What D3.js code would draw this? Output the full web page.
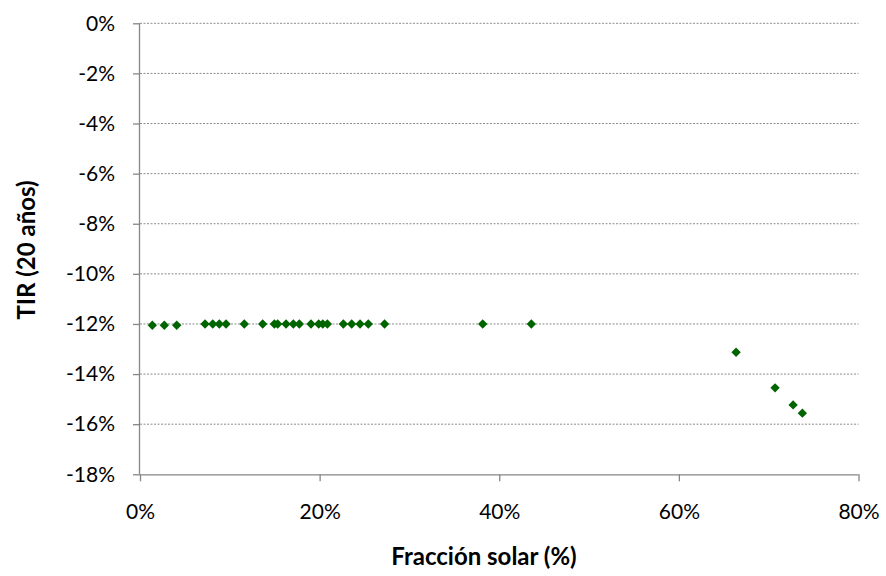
<!DOCTYPE html>
<html>
<head>
<meta charset="utf-8">
<script src="https://cdn.jsdelivr.net/npm/d3@7"></script>
<style>
  body { margin: 0; background: #fff; }
  svg { display: block; }
</style>
</head>
<body>
<svg id="chart" width="886" height="576"></svg>
<script>
// Data (fractions, %)
const solarFraction = [1.37, 2.71, 4.09, 7.24, 8.10, 8.83, 9.58, 11.61, 13.66, 14.96, 15.33, 16.26, 17.07, 17.74, 19.04, 19.90, 20.35, 20.86, 22.64, 23.57, 24.50, 25.42, 27.23, 38.16, 43.57, 66.37, 70.71, 72.72, 73.75];
const tir20 = [-12.05, -12.05, -12.05, -12.0, -12.0, -12.0, -12.0, -12.0, -12.0, -12.0, -12.0, -12.0, -12.0, -12.0, -12.0, -12.0, -12.0, -12.0, -12.0, -12.0, -12.0, -12.0, -12.0, -12.0, -12.0, -13.13, -14.55, -15.23, -15.56];
const xTicks = [0, 20, 40, 60, 80];
const yTicks = [0, -2, -4, -6, -8, -10, -12, -14, -16, -18];
const xTitle = "Fracción solar (%)";
const yTitle = "TIR (20 años)";

const font = "Lato, 'Open Sans', sans-serif";
const svg = d3.select("#chart");
const pLeft = 140, pRight = 858.5, pTop = 23.3, pBottom = 474.3;

const x = d3.scaleLinear().domain([0, 80]).range([pLeft, pRight]);
const y = d3.scaleLinear().domain([-18, 0]).range([pBottom, pTop]);

// Gridlines
svg.append("g").selectAll("line").data(yTicks.filter(d => d !== -18)).join("line")
  .attr("x1", pLeft).attr("x2", pRight)
  .attr("y1", d => y(d)).attr("y2", d => y(d))
  .attr("stroke", "#8c8c8c").attr("stroke-width", 1)
  .attr("stroke-dasharray", "2,1.5");

// Y axis
const yAxis = svg.append("g").attr("transform", `translate(${pLeft},0)`)
  .call(d3.axisLeft(y).tickValues(yTicks).tickSize(7).tickPadding(18).tickFormat(d => d + "%"));
// X axis
const xAxis = svg.append("g").attr("transform", `translate(0,${pBottom})`)
  .call(d3.axisBottom(x).tickValues(xTicks).tickSize(7).tickPadding(23).tickFormat(d => d + "%"));

[yAxis, xAxis].forEach(a => {
  a.select(".domain").attr("stroke", "#868686").attr("stroke-width", 1.3);
  a.selectAll(".tick line").attr("stroke", "#868686").attr("stroke-width", 1.3);
  a.selectAll(".tick text").attr("fill", "#000").style("font-family", font).style("font-size", "21px");
});
yAxis.select(".domain").attr("d", `M-0.5,${pBottom}V${pTop}`);
xAxis.select(".domain").attr("d", `M${pLeft},0.5H${pRight}`);

// Points
svg.append("g").selectAll("path").data(solarFraction.map((v, i) => [v, tir20[i]])).join("path")
  .attr("transform", d => `translate(${x(d[0])},${y(d[1])})`)
  .attr("d", d3.symbol(d3.symbolDiamond2, 56)())
  .attr("fill", "#006400");

// Titles
svg.append("text").attr("x", 484).attr("y", 555)
  .attr("text-anchor", "middle").attr("dominant-baseline", "central")
  .style("font-family", font).style("font-size", "24px").style("font-weight", "bold")
  .text(xTitle);
svg.append("text").attr("transform", "translate(25,250) rotate(-90)")
  .attr("text-anchor", "middle").attr("dominant-baseline", "central")
  .style("font-family", font).style("font-size", "24px").style("font-weight", "bold")
  .text(yTitle);
</script>
</body>
</html>
